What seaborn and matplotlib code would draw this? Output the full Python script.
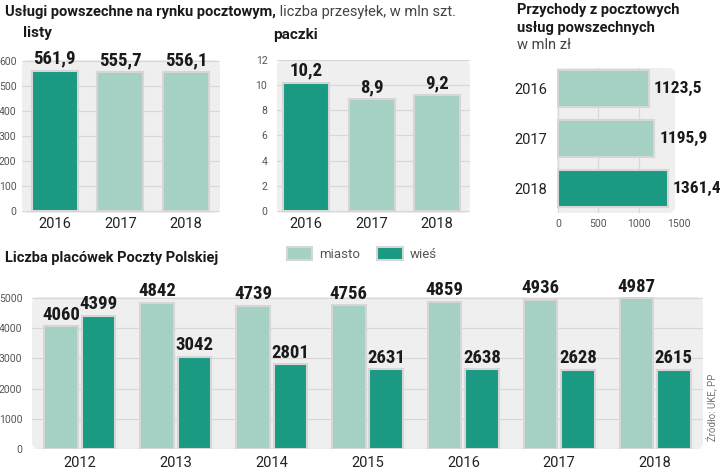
import pandas as pd
import seaborn as sns
import matplotlib.pyplot as plt
from matplotlib import font_manager
from matplotlib.patches import FancyBboxPatch, Patch
from matplotlib.transforms import IdentityTransform

# Dane
lata_3 = ["2016", "2017", "2018"]
listy = [561.9, 555.7, 556.1]
paczki = [10.2, 8.9, 9.2]
przychody = [1123.5, 1195.9, 1361.4]

lata_7 = ["2012", "2013", "2014", "2015", "2016", "2017", "2018"]
miasto = [4060, 4842, 4739, 4756, 4859, 4936, 4987]
wies = [4399, 3042, 2801, 2631, 2638, 2628, 2615]

# Kolory
CIEMNY = "#1a9983"
JASNY = "#a5d0c4"
TLO = "#efefef"
SIATKA = "#d8d8d8"
OBRYS = "#d6d6d6"

sns.set_theme(style="white")
plt.rcParams["font.family"] = ["Roboto", "DejaVu Sans"]

# Czcionka wąska do wartości (jeśli jest)
nazwy = {f.name for f in font_manager.fontManager.ttflist}
WASKA = next((n for n in ["Liberation Sans Narrow", "DejaVu Sans Condensed", "Roboto Condensed"]
              if n in nazwy), "Roboto")

W, H = 720, 470
fig = plt.figure(figsize=(W / 100, H / 100), dpi=100)
fig.patch.set_facecolor("white")


def osie(x0, y0, x1, y1):
    # osie w pikselach (od góry)
    ax = fig.add_axes([x0 / W, 1 - y1 / H, (x1 - x0) / W, (y1 - y0) / H])
    ax.set_facecolor("none")
    for s in ax.spines.values():
        s.set_visible(False)
    return ax


def tlo(x0, y0, x1, y1, r=7):
    p = FancyBboxPatch((x0, H - y1), x1 - x0, y1 - y0,
                       boxstyle=f"round,pad=0,rounding_size={r}",
                       facecolor=TLO, edgecolor="none",
                       transform=IdentityTransform(), zorder=-1)
    fig.add_artist(p)


def fmt(v):
    return f"{v:.1f}".replace(".", ",")


def styl_pionowy(ax, pad_y):
    ax.set_xlabel("")
    ax.set_ylabel("")
    ax.yaxis.grid(True, color=SIATKA, lw=0.9)
    ax.set_axisbelow(True)
    ax.tick_params(axis="x", length=0, pad=3, labelsize=10.5, labelcolor="#222")
    ax.tick_params(axis="y", length=0, pad=pad_y, labelsize=7.5, labelcolor="#555")


# --- listy ---
tlo(22, 60, 220, 213)
ax1 = osie(22, 60, 220, 213)
sns.barplot(x=lata_3, y=listy, hue=lata_3, palette=[CIEMNY, JASNY, JASNY], legend=False,
            width=0.7, saturation=1, edgecolor=OBRYS, linewidth=1.5, ax=ax1)
ax1.set_ylim(-8, 604)
ax1.set_xlim(-0.5, 2.52)
ax1.set_yticks(range(0, 601, 100))
styl_pionowy(ax1, 4)
for c in ax1.containers:
    ax1.bar_label(c, labels=[fmt(b.get_height()) for b in c], padding=2,
                  fontsize=13.5, fontweight="bold", family=WASKA, color="#1a1a1a")

# --- paczki ---
tlo(277, 60, 470, 213)
ax2 = osie(277, 60, 470, 213)
sns.barplot(x=lata_3, y=paczki, hue=lata_3, palette=[CIEMNY, JASNY, JASNY], legend=False,
            width=0.7, saturation=1, edgecolor=OBRYS, linewidth=1.5, ax=ax2)
ax2.set_ylim(-0.16, 12.0)
ax2.set_xlim(-0.44, 2.5)
ax2.set_yticks(range(0, 13, 2))
styl_pionowy(ax2, 7)
for c in ax2.containers:
    ax2.bar_label(c, labels=[fmt(b.get_height()) for b in c], padding=2,
                  fontsize=13.5, fontweight="bold", family=WASKA, color="#1a1a1a")

# --- przychody ---
tlo(557, 68, 675, 213)
ax3 = osie(557, 68, 679, 213)
sns.barplot(x=przychody, y=lata_3, hue=lata_3, palette=[JASNY, JASNY, CIEMNY], legend=False,
            orient="h", width=0.74, saturation=1, edgecolor=OBRYS, linewidth=1.5, ax=ax3)
ax3.set_xlim(-12, 1500)
ax3.set_ylim(2.48, -0.41)
ax3.set_xticks([0, 500, 1000, 1500])
ax3.set_xlabel("")
ax3.set_ylabel("")
ax3.xaxis.grid(True, color=SIATKA, lw=0.9)
ax3.get_xgridlines()[-1].set_visible(False)
ax3.set_axisbelow(True)
ax3.tick_params(axis="x", length=0, pad=4, labelsize=7.5, labelcolor="#555")
ax3.tick_params(axis="y", length=0, pad=7, labelsize=10.5, labelcolor="#222")
for c in ax3.containers:
    ax3.bar_label(c, labels=[fmt(b.get_width()) for b in c], padding=3.5,
                  fontsize=12.5, fontweight="bold", family=WASKA, color="#1a1a1a")

# --- placówki ---
df = pd.DataFrame({
    "rok": lata_7 * 2,
    "typ": ["miasto"] * len(lata_7) + ["wieś"] * len(lata_7),
    "liczba": miasto + wies,
})
tlo(32, 297, 703, 449)
ax4 = osie(32, 297, 703, 449)
sns.barplot(data=df, x="rok", y="liczba", hue="typ", palette={"miasto": JASNY, "wieś": CIEMNY},
            legend=False, width=0.78, gap=0.1, saturation=1, edgecolor=OBRYS, linewidth=1.5, ax=ax4)
ax4.set_ylim(0, 5030)
ax4.set_xlim(-0.5, 6.5)
ax4.set_yticks(range(0, 5001, 1000))
styl_pionowy(ax4, 7)
ax4.tick_params(axis="x", pad=5)
for c in ax4.containers:
    ax4.bar_label(c, labels=[f"{b.get_height():.0f}" for b in c], padding=2,
                  fontsize=13.5, fontweight="bold", family=WASKA, color="#1a1a1a")

# legenda
uchwyty = [Patch(facecolor=JASNY, edgecolor=OBRYS, linewidth=1.5),
           Patch(facecolor=CIEMNY, edgecolor=OBRYS, linewidth=1.5)]
fig.legend(uchwyty, ["miasto", "wieś"], loc="center left", bbox_to_anchor=(287 / W, 1 - 254 / H),
           ncol=2, frameon=False, handlelength=1.9, handleheight=1.15,
           handletextpad=0.55, columnspacing=1.3, borderpad=0, borderaxespad=0,
           labelcolor="#555", prop={"size": 9.5})

# --- teksty ---
t1 = fig.text(5 / W, 1 - 12 / H, "Usługi powszechne na rynku pocztowym,", fontsize=10.5,
              fontweight="bold", va="center", color="#1a1a1a")
plt.annotate(" liczba przesyłek, w mln szt.", xy=(1, 0), xycoords=t1, va="bottom",
             fontsize=10.5, color="#444")

fig.text(23 / W, 1 - 33 / H, "listy", fontsize=11, fontweight="bold", va="center", color="#1a1a1a")
fig.text(273 / W, 1 - 35 / H, "paczki", fontsize=11, fontweight="bold", va="center", color="#1a1a1a")

fig.text(517 / W, 1 - 10 / H, "Przychody z pocztowych", fontsize=10.5, fontweight="bold",
         va="center", color="#1a1a1a")
fig.text(517 / W, 1 - 28 / H, "usług powszechnych", fontsize=10.5, fontweight="bold",
         va="center", color="#1a1a1a")
fig.text(517 / W, 1 - 45 / H, "w mln zł", fontsize=10.5, va="center", color="#444")

fig.text(5 / W, 1 - 258 / H, "Liczba placówek Poczty Polskiej", fontsize=10.5, fontweight="bold",
         va="center", color="#1a1a1a")

fig.text(711 / W, 1 - 407 / H, "Źródło: UKE, PP", fontsize=7, rotation=90,
         ha="center", va="center", color="#777")

plt.savefig("out.png", dpi=100)
